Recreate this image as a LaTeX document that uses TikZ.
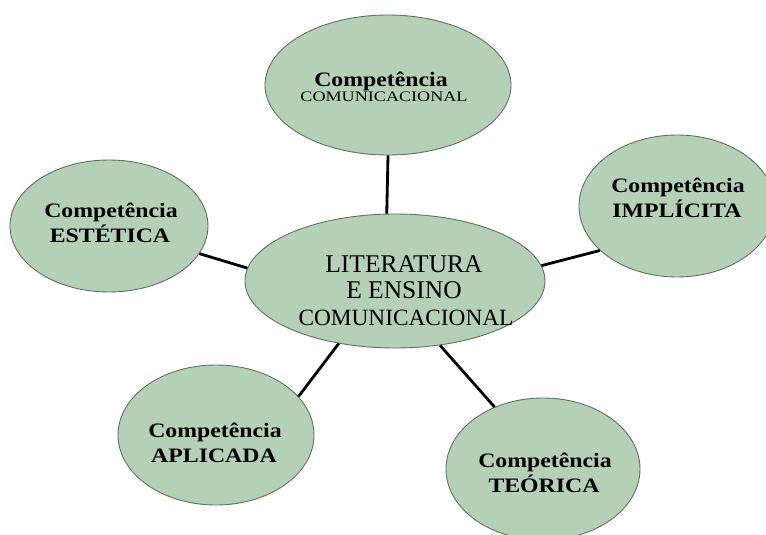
\documentclass[tikz,border=0pt]{standalone}
\usepackage{fontspec}
\setmainfont{Liberation Serif}
\newfontfamily\cfont[FakeStretch=1.16]{Liberation Serif}
\newfontfamily\sfont[FakeStretch=1.25]{Liberation Serif}
\usetikzlibrary{shapes.geometric}
\definecolor{ellfill}{RGB}{180,208,182}
\definecolor{ellline}{RGB}{95,115,98}
\tikzset{
  bubble/.style={ellipse, draw=ellline, line width=0.9pt, fill=ellfill, inner sep=0pt},
  link/.style={line width=2.8pt, black},
  txt/.style={anchor=base, inner sep=0pt},
  comp/.style={txt, font=\cfont\bfseries\fontsize{20.5}{24}\selectfont},
  midtxt/.style={txt, font=\fontsize{25.5}{28}\selectfont},
  small/.style={txt, font=\sfont\fontsize{14.5}{16}\selectfont}
}
\begin{document}
\begin{tikzpicture}[x=1pt,y=-1pt]
\useasboundingbox (0,0) rectangle (766,535);
\clip (0,0) rectangle (766,535);
\fill[white] (0,0) rectangle (766,535);
% ellipses
\node[bubble, minimum width=246pt, minimum height=140pt] (top) at (388,85) {};
\node[bubble, minimum width=300pt, minimum height=134pt] (mid) at (395,281) {};
\node[bubble, minimum width=198pt, minimum height=132pt] (est) at (109,226) {};
\node[bubble, minimum width=196pt, minimum height=142pt] (imp) at (677,206) {};
\node[bubble, minimum width=196pt, minimum height=140pt] (apl) at (216,435) {};
\node[bubble, minimum width=194pt, minimum height=142pt] (teo) at (543,469) {};
% texts
\node[comp] (topA) at (381,86) {Competência};
\node[small] (topB) at (384,102) {COMUNICACIONAL};
\node[midtxt] (midA) at (404,272) {LITERATURA};
\node[midtxt] (midB) at (404,298) {E ENSINO};
\node[midtxt, font=\fontsize{23.3}{28}\selectfont] (midC) at (406,325) {COMUNICACIONAL};
\node[comp] (estA) at (111,217) {Competência};
\node[comp] (estB) at (110,242) {ESTÉTICA};
\node[comp] (impA) at (678,192) {Competência};
\node[comp] (impB) at (677,217) {IMPLÍCITA};
\node[comp] (aplA) at (215,437) {Competência};
\node[comp] (aplB) at (214,462) {APLICADA};
\node[comp] (teoA) at (545,467) {Competência};
\node[comp] (teoB) at (544,492) {TEÓRICA};
% connectors
\draw[link] (top.-90) -- (mid.97);
\draw[link] (est.-17) -- (mid.175);
\draw[link] (imp.210) -- (mid.6);
\draw[link] (apl.25) -- (mid.228);
\draw[link] (teo.128) -- (mid.-55);
\end{tikzpicture}
\end{document}
